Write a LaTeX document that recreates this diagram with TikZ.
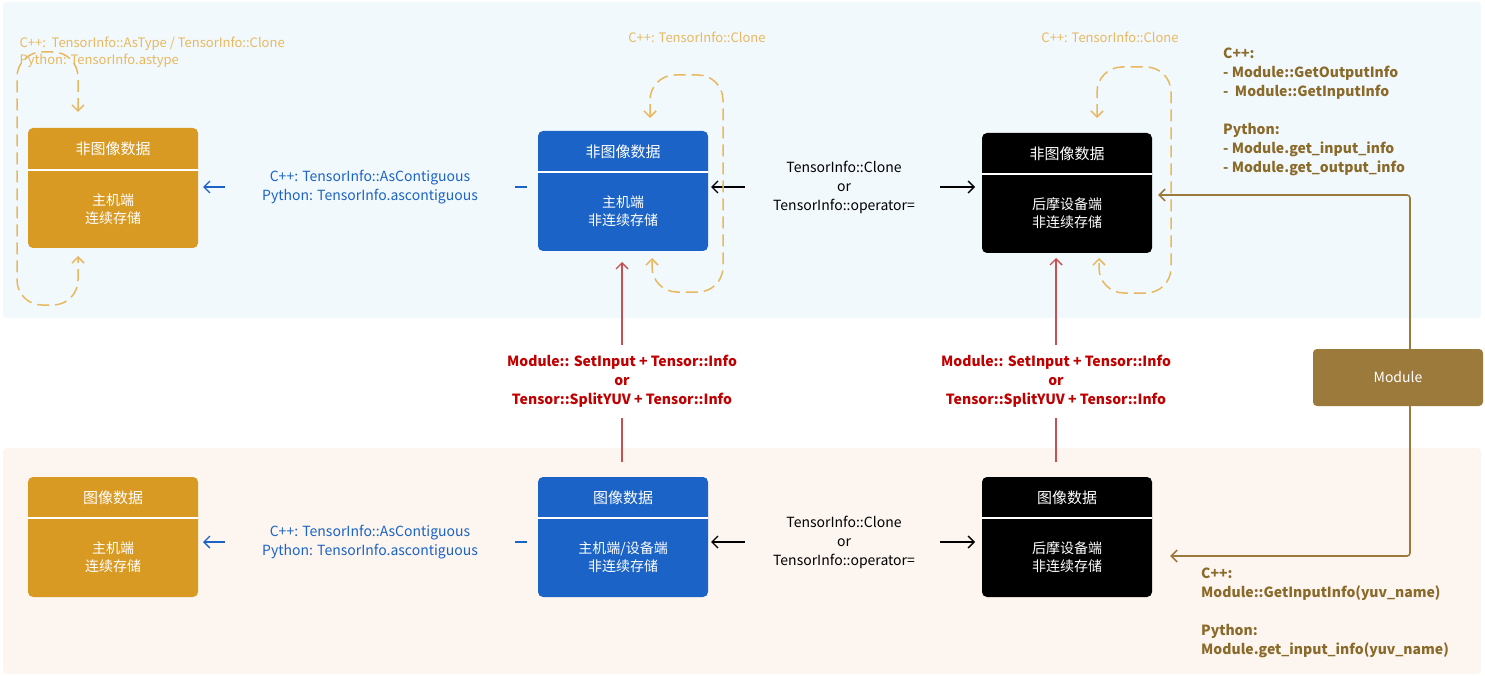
\documentclass[tikz,border=0pt]{standalone}
\usepackage{fontspec}
\setmainfont{Noto Sans CJK SC}
\usetikzlibrary{arrows.meta}
\definecolor{pblue}{HTML}{F2F9FC}
\definecolor{porange}{HTML}{FDF5EF}
\definecolor{cor}{HTML}{D99A24}
\definecolor{cbl}{HTML}{1B63C6}
\definecolor{cbr}{HTML}{9C7A3C}
\definecolor{tbr}{HTML}{8A6A2A}
\definecolor{cdash}{HTML}{E8B860}
\definecolor{cred}{HTML}{C00000}
\definecolor{lred}{HTML}{C85050}
\begin{document}
\begin{tikzpicture}[x=1pt,y=-1pt,
  ttl/.style={text=white,font=\fontsize{15}{18}\selectfont},
  txt/.style={font=\fontsize{14}{18}\selectfont,align=center},
  stxt/.style={font=\fontsize{13}{19}\selectfont,align=left},
  tip/.style={-{Straight Barb[length=6pt,width=12pt]}},
  dtip/.style={{Straight Barb[length=6pt,width=12pt]}-{Straight Barb[length=6pt,width=12pt]}},
  dloop/.style={draw=cdash,line width=1.5pt,dash pattern=on 12pt off 6pt,dtip,rounded corners=25pt}]
\useasboundingbox (0,0) rectangle (1485,676);
\fill[pblue,rounded corners=4pt] (3,2) rectangle (1481,318);
\fill[porange,rounded corners=4pt] (3,448) rectangle (1481,674);

\newcommand{\mybox}[8]{%
  \fill[#6,rounded corners=5pt] (#2,#3) rectangle ++(170,#4-#3);
  \draw[white,line width=1.5pt] (#2,#5) -- ++(170,0);
  \node[ttl] at (#2+85,{(#3+#5)/2}) {#7};
  \node[inner sep=0pt] (#1) at (#2+85,{(#3+#4)/2}) {};
  \node[txt,text=white] at (#2+85,{(#5+#4)/2}) {#8};
}
\mybox{oa}{28}{128}{248}{170}{cor}{非图像数据}{主机端\\连续存储}
\mybox{ba}{538}{131}{251}{172}{cbl}{非图像数据}{主机端\\非连续存储}
\mybox{ka}{982}{133}{253}{174}{black}{非图像数据}{后摩设备端\\非连续存储}
\mybox{ob}{28}{477}{597}{518}{cor}{图像数据}{主机端\\连续存储}
\mybox{bb}{538}{477}{597}{518}{cbl}{图像数据}{主机端/设备端\\非连续存储}
\mybox{kb}{982}{477}{597}{518}{black}{图像数据}{后摩设备端\\非连续存储}
\fill[cbr,rounded corners=4pt] (1313,349) rectangle (1483,406);
\node[txt,text=white] (mod) at (1398,377.5) {Module};

\foreach \y in {187,542}{
  \draw[cbl,line width=1.4pt] (527,\y) -- (515,\y);
  \draw[cbl,line width=1.4pt,tip] (225,\y) -- (203,\y);
  \node[txt,text=cbl,font=\fontsize{14}{19}\selectfont] at (370,\y) {C++: TensorInfo::AsContiguous\\Python: TensorInfo.ascontiguous};
  \draw[black,line width=1.4pt,tip] (745,\y) -- (711,\y);
  \draw[black,line width=1.4pt,tip] (940,\y) -- (975,\y);
  \node[txt,font=\fontsize{14}{19}\selectfont] at (844,\y) {TensorInfo::Clone\\or\\TensorInfo::operator=};
}

\foreach \x/\yt in {622/262,1056/258}{
  \draw[lred,line width=1.4pt] (\x,462) -- (\x,418);
  \draw[lred,line width=1.4pt,tip] (\x,345) -- (\x,\yt);
  \node[txt,text=cred,font=\bfseries\fontsize{14}{19}\selectfont] at (\x,381) {Module:: SetInput + Tensor::Info\\or\\Tensor::SplitYUV + Tensor::Info};
}

\draw[cbr,line width=1.6pt,tip,rounded corners=3pt] (1410,349) -- (1410,195) -- (1158,195);
\draw[cbr,line width=1.6pt,tip,rounded corners=3pt] (1410,406) -- (1410,556) -- (1170,556);

\draw[dloop] (78,112) -- (78,52) -- (17,52) -- (17,305) -- (78,305) -- (78,256);
\draw[dloop] (650,118) -- (650,75) -- (723,75) -- (723,292) -- (652,292) -- (652,258);
\draw[dloop] (1097,118) -- (1097,67) -- (1171,67) -- (1171,293) -- (1099,293) -- (1099,258);

\node[stxt,text=cdash,anchor=west,font=\fontsize{13}{17}\selectfont] at (16,52.5) {C++:\ \ TensorInfo::AsType / TensorInfo::Clone\\Python: TensorInfo.astype};
\node[text=cdash,font=\fontsize{13}{17}\selectfont] at (697,37) {C++: TensorInfo::Clone};
\node[text=cdash,font=\fontsize{13}{17}\selectfont] at (1110,37) {C++: TensorInfo::Clone};
\node[stxt,text=tbr,anchor=north west,inner sep=0pt,font=\bfseries\fontsize{14}{19}\selectfont] at (1223,48) {C++:\\- Module::GetOutputInfo\\-\ \ Module::GetInputInfo\\[19pt]Python:\\- Module.get\_input\_info\\- Module.get\_output\_info};
\node[stxt,text=tbr,anchor=north west,inner sep=0pt,font=\bfseries\fontsize{14}{19}\selectfont] at (1201,568) {C++:\\Module::GetInputInfo(yuv\_name)\\[19pt]Python:\\Module.get\_input\_info(yuv\_name)};
\end{tikzpicture}
\end{document}
